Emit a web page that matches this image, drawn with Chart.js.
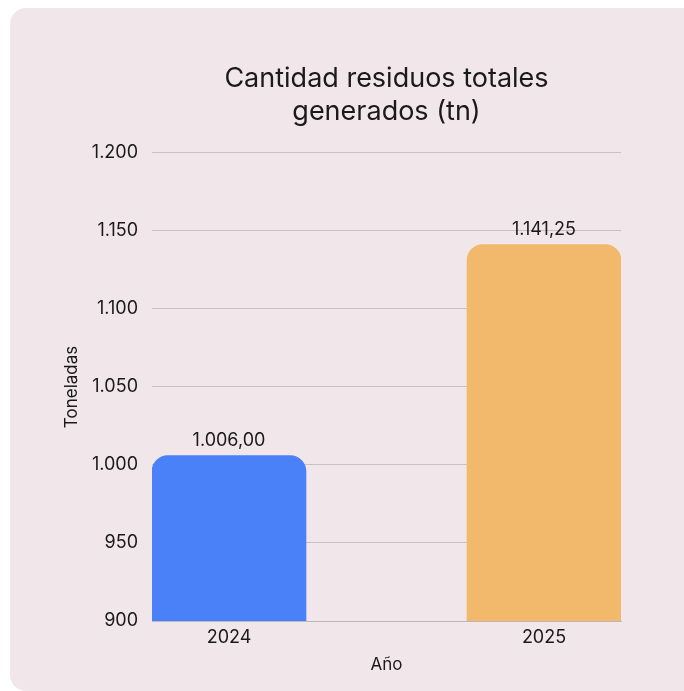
<!DOCTYPE html>
<html>
<head>
<meta charset="utf-8">
<script src="https://cdn.jsdelivr.net/npm/chart.js@4.4.1/dist/chart.umd.min.js"></script>
<style>
  html, body { margin: 0; padding: 0; background: #ffffff; overflow: hidden; }
  #card {
    position: absolute; left: 10px; top: 8px; width: 720px; height: 683px;
    background: #f1e7eb; border-radius: 16px;
  }
  #wrap { position: absolute; left: 0; top: 0; width: 684px; height: 691px; }
</style>
</head>
<body>
<div id="card"></div>
<div id="wrap"><canvas id="myChart" width="684" height="691"></canvas></div>
<script>
const years = ['2024', '2025'];
const residuos = [1006.00, 1141.25];
const barColors = ['#4a80f8', '#f2b86c'];
const yTicks = [900, 950, 1000, 1050, 1100, 1150, 1200];

function fmt(v, dec) {
    const parts = v.toFixed(dec).split('.');
    const ent = parts[0].replace(/\B(?=(\d{3})+(?!\d))/g, '.');
    return parts.length > 1 ? ent + ',' + parts[1] : ent;
}

const valueLabels = {
    id: 'valueLabels',
    afterDatasetsDraw(chart) {
        const ctx = chart.ctx;
        const meta = chart.getDatasetMeta(0);
        ctx.save();
        ctx.font = '18px Inter';
        ctx.fillStyle = '#1a1a1a';
        ctx.textAlign = 'center';
        ctx.textBaseline = 'alphabetic';
        meta.data.forEach((bar, i) => {
            ctx.fillText(fmt(residuos[i], 2), bar.x, bar.y - 10);
        });
        ctx.restore();
    }
};

const ctx = document.getElementById('myChart').getContext('2d');
const chart = new Chart(ctx, {
    type: 'bar',
    data: {
        datasets: [{
            data: residuos.map((v, i) => ({ x: i, y: v })),
            backgroundColor: barColors,
            borderRadius: { topLeft: 16, topRight: 16, bottomLeft: 0, bottomRight: 0 },
            borderSkipped: false,
            barThickness: 154,
        }]
    },
    options: {
        responsive: false,
        animation: false,
        layout: { padding: { left: 50, right: 63, top: 62, bottom: 16 } },
        plugins: {
            legend: { display: false },
            tooltip: { enabled: false },
            title: {
                display: true,
                fullSize: false,
                text: ['Cantidad residuos totales', 'generados (tn)'],
                font: { family: 'Inter', size: 27, weight: 'normal', lineHeight: 1.22 },
                color: '#1a1a1a',
                padding: { top: 0, bottom: 25 },
            },
        },
        scales: {
            x: {
                type: 'linear',
                offset: false,
                min: -0.2444,
                max: 1.2444,
                afterBuildTicks: (axis) => { axis.ticks = years.map((y, i) => ({ value: i })); },
                ticks: {
                    callback: (v) => years[v],
                    font: { family: 'Inter', size: 18 },
                    color: '#1a1a1a',
                    padding: -2,
                },
                grid: { display: false, offset: false },
                border: { display: true, color: '#bdb5b9' },
                title: {
                    display: true,
                    text: 'Año',
                    font: { family: 'Inter', size: 17 },
                    color: '#1a1a1a',
                    padding: { top: 8, bottom: 0 },
                },
            },
            y: {
                min: 900,
                max: 1200,
                afterBuildTicks: (axis) => { axis.ticks = yTicks.map(v => ({ value: v })); },
                afterFit: (axis) => { axis.width = 102; },
                ticks: {
                    callback: (v) => fmt(v, 0),
                    font: { family: 'Inter', size: 18 },
                    color: '#1a1a1a',
                    padding: 14,
                },
                grid: { color: '#c8c0c4', drawTicks: false },
                border: { display: false },
                title: {
                    display: true,
                    text: 'Toneladas',
                    font: { family: 'Inter', size: 17 },
                    color: '#1a1a1a',
                    padding: { top: 12, bottom: 0 },
                },
            },
        },
    },
    plugins: [valueLabels],
});
</script>
</body>
</html>
